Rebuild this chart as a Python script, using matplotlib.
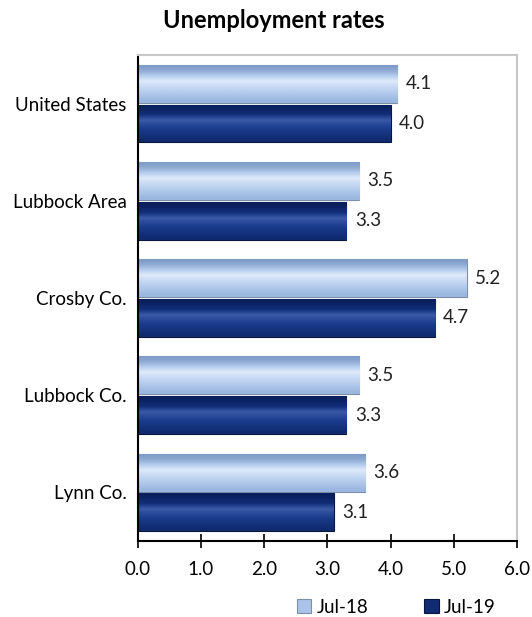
import numpy as np
import matplotlib
matplotlib.use("Agg")
import matplotlib.pyplot as plt
from matplotlib.colors import LinearSegmentedColormap

# Data
categories = ["United States", "Lubbock Area", "Crosby Co.", "Lubbock Co.", "Lynn Co."]
jul18 = [4.1, 3.5, 5.2, 3.5, 3.6]
jul19 = [4.0, 3.3, 4.7, 3.3, 3.1]
series_names = ["Jul-18", "Jul-19"]
xticks = [0.0, 1.0, 2.0, 3.0, 4.0, 5.0, 6.0]

plt.rcParams['font.family'] = ['Lato', 'DejaVu Sans']
fs = 13.5

fig = plt.figure(figsize=(5.32, 6.17), dpi=100)
ax = fig.add_axes([0.259, 0.123, 0.713, 0.788])

y = np.arange(len(categories))
h = 0.39
light_bars = ax.barh(y - h / 2 - 0.01, jul18, height=h, color="#aac4e9",
                     edgecolor="#7d8fa8", linewidth=0.8, label=series_names[0])
dark_bars = ax.barh(y + h / 2 + 0.01, jul19, height=h, color="#112b72",
                    edgecolor="#0a163d", linewidth=0.8, label=series_names[1])

# glossy gradient inside each bar
light_cmap = LinearSegmentedColormap.from_list(
    "light", ["#7f9cc8", "#b3cbec", "#dfeafa", "#bcd1ef", "#9ab6df"])
dark_cmap = LinearSegmentedColormap.from_list(
    "dark", ["#0a1f5c", "#132f7c", "#3a5aa8", "#1a3a8c", "#0f2a6e"])
grad = np.array([0.0, 0.1, 0.25, 0.45, 0.6, 0.7, 0.8, 0.9, 1.0]).reshape(-1, 1)
for bars, cmap in [(light_bars, light_cmap), (dark_bars, dark_cmap)]:
    for p in bars:
        bb = p.get_bbox()
        im = ax.imshow(grad, cmap=cmap, aspect="auto", interpolation="bicubic",
                       extent=[bb.x0, bb.x1, bb.y1, bb.y0], zorder=2.5)
        im.set_clip_path(p)

for bars, vals in [(light_bars, jul18), (dark_bars, jul19)]:
    for p, v in zip(bars, vals):
        ax.annotate(f"{v:.1f}", (p.get_width(), p.get_y() + p.get_height() / 2),
                    xytext=(6, 0), textcoords="offset points", va="center",
                    ha="left", fontsize=fs, color="#222222")

ax.set_xlim(0, 6.0)
ax.set_ylim(len(categories) - 0.5, -0.5)
ax.set_xticks(xticks)
ax.set_xticklabels([f"{t:.1f}" for t in xticks], fontsize=fs)
ax.set_yticks(y)
ax.set_yticklabels(categories, fontsize=fs)
ax.tick_params(axis="y", length=0, pad=8)
ax.tick_params(axis="x", direction="inout", length=10, width=1.2, pad=9)

ax.spines["left"].set_color("black")
ax.spines["left"].set_linewidth(1.5)
ax.spines["bottom"].set_color("black")
ax.spines["bottom"].set_linewidth(1.5)
ax.spines["top"].set_color("#c8c8c8")
ax.spines["right"].set_color("#c8c8c8")
ax.spines["top"].set_linewidth(1.5)
ax.spines["right"].set_linewidth(1.5)

fig.text(0.514, 0.966, "Unemployment rates", ha="center", va="center",
         fontsize=17, fontweight="bold")

leg = fig.legend(handles=[light_bars, dark_bars], labels=series_names,
                 loc="center", bbox_to_anchor=(0.745, 0.016), ncol=2, frameon=False,
                 fontsize=fs, handlelength=0.75, handleheight=0.75,
                 columnspacing=3.0, handletextpad=0.3, borderaxespad=0)

fig.savefig("out.png", dpi=100)
